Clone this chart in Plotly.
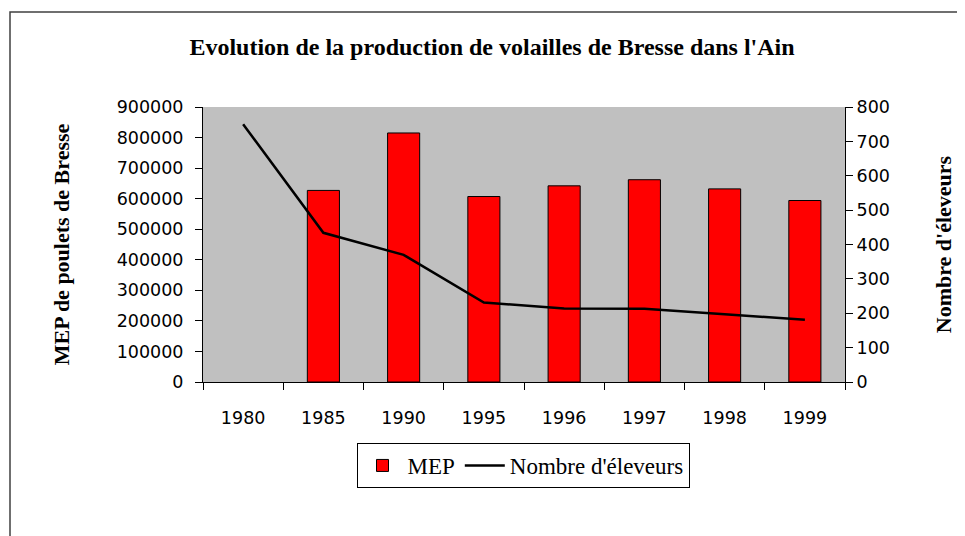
import plotly.graph_objects as go

years = ["1980", "1985", "1990", "1995", "1996", "1997", "1998", "1999"]
mep = [None, 627000, 815000, 607000, 642000, 662000, 632000, 594000]
eleveurs = [750, 434, 370, 231, 214, 213, 197, 181]

OFF = 8  # page body margin
L, R, T, B = 203, 845, 107, 382
W, H = 965 - OFF, 536 - OFF

def px(x):
    return (x - L) / (R - L)

def py(y):
    return (B - y) / (B - T)

fig = go.Figure()
fig.add_trace(go.Bar(
    x=years, y=mep, name="MEP",
    marker=dict(color="#FF0000", line=dict(color="#000000", width=1)),
    yaxis="y",
))
fig.add_trace(go.Scatter(
    x=years, y=eleveurs, name="Nombre d'éleveurs", mode="lines",
    line=dict(color="#000000", width=2.5),
    yaxis="y2",
))

tickfont = dict(family="DejaVu Sans", size=17.5, color="#000000")
serif_bold = dict(family="Liberation Serif", size=22, color="#000000")

fig.update_layout(
    width=W, height=H, autosize=False,
    margin=dict(l=L - OFF, r=965 - R, t=T - OFF, b=536 - B),
    paper_bgcolor="#FFFFFF",
    plot_bgcolor="#C0C0C0",
    bargap=0.6,
    showlegend=True,
    title=dict(
        text="<b>Evolution de la production de volailles de Bresse dans l'Ain</b>",
        font=dict(family="Liberation Serif", size=24, color="#000000"),
        x=px(492), xanchor="center", xref="paper",
        y=1 - (47 - OFF) / H, yanchor="middle", yref="container",
    ),
    xaxis=dict(
        type="category",
        tickfont=tickfont,
        showline=True, linecolor="#000000", linewidth=1,
        ticks="outside", ticklen=7, tickcolor="#000000",
        tickson="boundaries",
        showgrid=False, zeroline=False,
        ticklabelstandoff=20,
    ),
    yaxis=dict(
        range=[0, 900000], dtick=100000, tickformat="d",
        tickfont=tickfont,
        showline=True, linecolor="#000000", linewidth=1,
        ticks="outside", ticklen=7, tickcolor="#000000",
        showgrid=False, zeroline=False,
        ticklabelstandoff=8,
        title=dict(text="<b>MEP de poulets de Bresse</b>", font=serif_bold, standoff=40),
    ),
    yaxis2=dict(
        range=[0, 800], dtick=100, tickformat="d",
        overlaying="y", side="right",
        tickfont=tickfont,
        showline=True, linecolor="#000000", linewidth=1,
        ticks="outside", ticklen=7, tickcolor="#000000",
        showgrid=False, zeroline=False,
        title=dict(text="<b>Nombre d'éleveurs</b>", font=serif_bold, standoff=46),
    ),
    legend=dict(
        orientation="h",
        x=px(523), xanchor="center",
        y=py(443), yanchor="top",
        font=dict(family="Liberation Serif", size=23, color="#000000"),
        bordercolor="#000000", borderwidth=1,
        bgcolor="#FFFFFF",
        itemwidth=40,
    ),
    shapes=[dict(
        type="rect", xref="paper", yref="paper",
        x0=px(10), x1=px(990), y0=py(600), y1=py(12),
        line=dict(color="#404040", width=1.5),
        fillcolor="rgba(0,0,0,0)", layer="below",
    )],
)

fig.write_html("out.html")
